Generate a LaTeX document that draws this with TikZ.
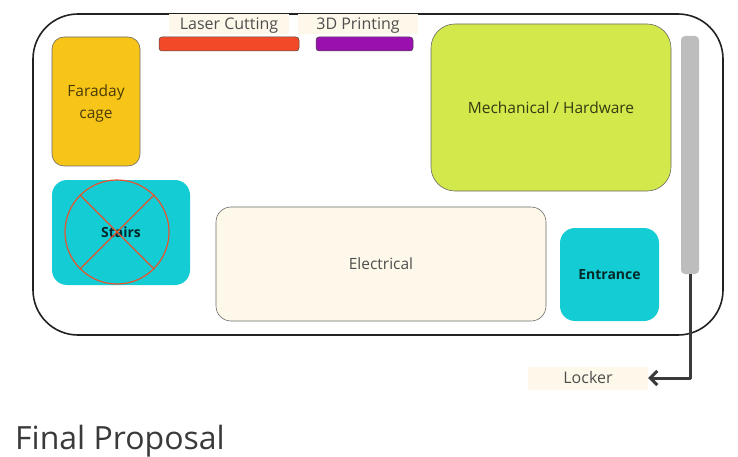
\documentclass[tikz,border=0pt]{standalone}
\usepackage{fontspec}
\setmainfont{Open Sans}
\usetikzlibrary{arrows.meta}
\definecolor{roomline}{HTML}{222222}
\definecolor{cream}{HTML}{FDF8EA}
\definecolor{faraday}{HTML}{F7C518}
\definecolor{laser}{HTML}{F24A28}
\definecolor{printer}{HTML}{9910AE}
\definecolor{mech}{HTML}{D3E84A}
\definecolor{teal}{HTML}{14CDD4}
\definecolor{rail}{HTML}{BDBDBD}
\definecolor{cross}{HTML}{E6532F}
\definecolor{ink}{HTML}{3A3A3A}
\definecolor{softink}{HTML}{4E4E4E}
\definecolor{edge}{HTML}{6B6B6B}
\tikzset{
  zone/.style={draw=edge, line width=0.6pt, rounded corners=#1, inner sep=0pt},
  tag/.style={fill=cream, text=softink, font=\fontsize{16}{18}\selectfont, inner sep=0pt,
              text height=11.5pt, text depth=0pt},
  bar/.style={draw=edge!70!black, line width=0.5pt, rounded corners=3pt},
}
\begin{document}
\begin{tikzpicture}[x=1pt,y=-1pt]
\useasboundingbox (0,0) rectangle (738,457);
\fill[white] (0,0) rectangle (738,457);

% room outline
\draw[roomline, line width=1.6pt, rounded corners=45pt] (33,14) rectangle (723,335);

% machines along the top wall
\node[tag, minimum width=120pt, minimum height=20pt] (lasertag) at (229,24) {Laser Cutting};
\node[tag, minimum width=120pt, minimum height=20pt] (printtag) at (358,24) {3D Printing};
\draw[bar, fill=laser] (159,37) rectangle (299,51);
\draw[bar, fill=printer] (316,37) rectangle (413,51);

% Faraday cage
\node[zone=12pt, fill=faraday, minimum width=88pt, minimum height=129pt,
      text=faraday!30!black, align=center, font=\fontsize{15.5}{22}\selectfont] (faraday) at (96,101.5) {};
\node[text=faraday!30!black, align=center, font=\fontsize{15.5}{22}\selectfont, inner sep=0pt]
  (faradaytext) at (96,103) {Faraday\\cage};

% Mechanical / Hardware
\node[zone=24pt, fill=mech, minimum width=240pt, minimum height=167pt,
      text=mech!25!black, font=\fontsize{15.5}{17}\selectfont] (mech) at (551,107.5) {Mechanical / Hardware};

% wall rail
\node[draw=none, fill=rail, rounded corners=4pt, minimum width=18pt, minimum height=238pt,
      inner sep=0pt] (rail) at (690,155) {};

% Stairs (closed off)
\node[fill=teal, rounded corners=15pt, minimum width=138pt, minimum height=105pt,
      inner sep=0pt, text=teal!20!black, font=\bfseries\fontsize{14}{16}\selectfont] (stairs) at (121,232.5) {Stairs};
\node[draw=cross, circle, line width=1.2pt, minimum size=104pt, inner sep=0pt] (ban) at (117,232) {};
\draw[cross, line width=1.2pt] (ban.north west) -- (ban.south east);
\draw[cross, line width=1.2pt] (ban.north east) -- (ban.south west);

% Electrical
\node[zone=15pt, fill=cream, minimum width=330pt, minimum height=114pt,
      text=softink, font=\fontsize{15.5}{17}\selectfont] (elec) at (381,264) {Electrical};

% Entrance
\node[fill=teal, rounded corners=15pt, minimum width=99pt, minimum height=93pt,
      inner sep=0pt, text=teal!20!black, font=\bfseries\fontsize{14}{16}\selectfont] (entrance) at (609.5,274.5) {Entrance};

% locker and route to it
\node[tag, minimum width=120pt, minimum height=23pt] (locker) at (588,378) {Locker};
\coordinate (bend) at (690,378);
\draw[ink, line width=3pt, -{Straight Barb[length=7pt,width=14pt]}, line join=round]
  (rail.south) -- (bend) -- (locker.east);

% caption
\node[anchor=base west, inner sep=0pt, text=ink, font=\fontsize{32}{36}\selectfont] (caption) at (15,449) {Final Proposal};
\end{tikzpicture}
\end{document}
